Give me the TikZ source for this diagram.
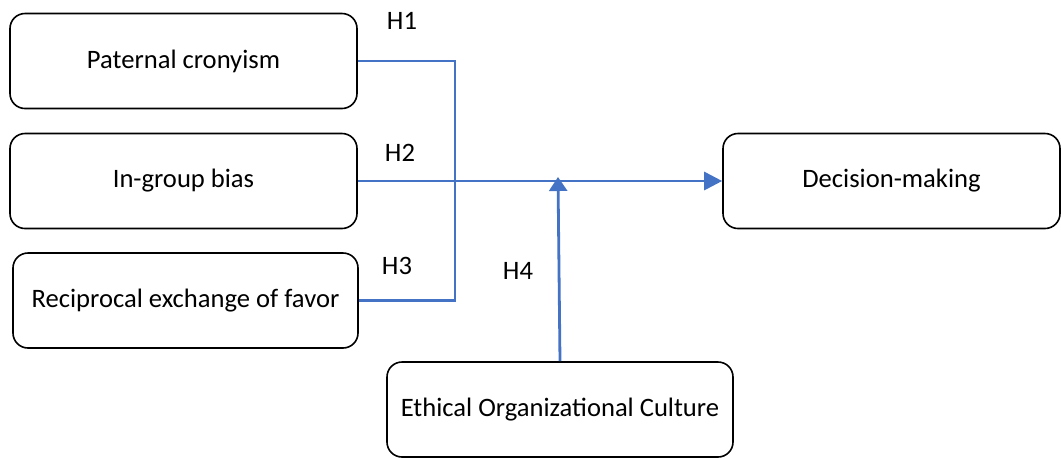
\documentclass[tikz,border=0pt]{standalone}
\usepackage{fontspec}
\setmainfont{Carlito}
\usepackage{xcolor}
\usepackage{tikz}
\usetikzlibrary{arrows.meta, calc}

\definecolor{linkblue}{RGB}{68,114,196}

\begin{document}
\begin{tikzpicture}[x=0.5pt, y=-0.5pt,
    factor/.style={draw, thick, rounded corners=7.5pt, minimum width=173.5pt, minimum height=47.5pt, font=\fontsize{13.3}{15}\selectfont},
    link/.style={linkblue, line width=1.4pt},
    hyp/.style={font=\fontsize{13.3}{15}\selectfont}]
    \useasboundingbox (0,0) rectangle (1061,457);

    % Independent variables
    \node[factor] (pc) at (183.5,61) {Paternal cronyism};
    \node[factor] (ig) at (183.5,181) {In-group bias};
    \node[factor, minimum width=172.5pt] (rf) at (185.5,300.5) {Reciprocal exchange of favor};

    % Dependent variable and moderator
    \node[factor, minimum width=168.5pt] (dm) at (891.5,181) {Decision-making};
    \node[factor, minimum width=173pt] (eoc) at (560,409.5) {Ethical Organizational Culture};

    % Hypothesis labels
    \node[hyp] (h1) at (402,21) {H1};
    \node[hyp] (h2) at (400,153) {H2};
    \node[hyp] (h3) at (397,266) {H3};
    \node[hyp] (h4) at (518,271) {H4};

    % Paths
    \coordinate (top) at (455,61);
    \coordinate (bot) at (455,300.5);
    \coordinate (hit) at (558,177);
    \draw[link] (pc.east) -- (top) -- (bot) -- (rf.east);
    \draw[link, -{Triangle[length=9pt, width=9pt]}] (ig.east) -- (dm.west);
    \draw[link, -{Triangle[length=7pt, width=9pt]}] (eoc.north) -- (hit);
\end{tikzpicture}
\end{document}
